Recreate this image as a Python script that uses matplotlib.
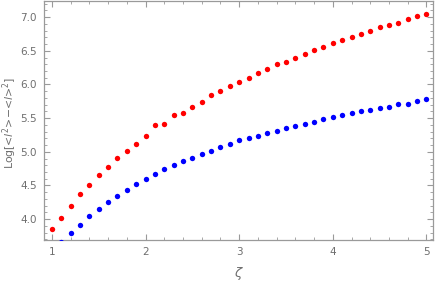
import numpy as np
import matplotlib.pyplot as plt
from matplotlib.ticker import MultipleLocator

# zeta grid, step 0.1
zeta_red = [1.0, 1.1, 1.2, 1.3, 1.4, 1.5, 1.6, 1.7, 1.8, 1.9,
            2.0, 2.1, 2.2, 2.3, 2.4, 2.5, 2.6, 2.7, 2.8, 2.9,
            3.0, 3.1, 3.2, 3.3, 3.4, 3.5, 3.6, 3.7, 3.8, 3.9,
            4.0, 4.1, 4.2, 4.3, 4.4, 4.5, 4.6, 4.7, 4.8, 4.9, 5.0]
var_red = [3.85, 4.02, 4.19, 4.37, 4.51, 4.65, 4.77, 4.91, 5.01, 5.12,
           5.23, 5.40, 5.42, 5.55, 5.58, 5.66, 5.74, 5.84, 5.91, 5.98,
           6.03, 6.10, 6.17, 6.23, 6.30, 6.34, 6.40, 6.45, 6.51, 6.55,
           6.61, 6.66, 6.70, 6.75, 6.79, 6.86, 6.88, 6.92, 6.97, 7.01, 7.04]

zeta_blue = [1.1, 1.2, 1.3, 1.4, 1.5, 1.6, 1.7, 1.8, 1.9,
             2.0, 2.1, 2.2, 2.3, 2.4, 2.5, 2.6, 2.7, 2.8, 2.9,
             3.0, 3.1, 3.2, 3.3, 3.4, 3.5, 3.6, 3.7, 3.8, 3.9,
             4.0, 4.1, 4.2, 4.3, 4.4, 4.5, 4.6, 4.7, 4.8, 4.9, 5.0]
var_blue = [3.66, 3.80, 3.92, 4.04, 4.15, 4.25, 4.35, 4.44, 4.52,
            4.60, 4.67, 4.74, 4.80, 4.86, 4.91, 4.97, 5.01, 5.07, 5.12,
            5.17, 5.20, 5.24, 5.28, 5.31, 5.36, 5.39, 5.42, 5.45, 5.48,
            5.51, 5.54, 5.57, 5.60, 5.62, 5.65, 5.67, 5.71, 5.71, 5.75, 5.78]

AXIS_GRAY = "#9a9a9a"
TEXT_GRAY = "#6e6e6e"

fig = plt.figure(figsize=(4.36, 2.83), dpi=100)
ax = fig.add_axes([44 / 436, 43 / 283, 389 / 436, 239 / 283])

ax.scatter(zeta_red, var_red, s=15, color="#ff0000", linewidths=0, zorder=3)
ax.scatter(zeta_blue, var_blue, s=15, color="#0000ff", linewidths=0, zorder=3)

ax.set_xlim(0.915, 5.07)
ax.set_ylim(3.69, 7.24)

ax.xaxis.set_major_locator(MultipleLocator(1))
ax.xaxis.set_minor_locator(MultipleLocator(0.2))
ax.yaxis.set_major_locator(MultipleLocator(0.5))
ax.yaxis.set_minor_locator(MultipleLocator(0.1))
ax.yaxis.set_major_formatter(plt.FormatStrFormatter("%.1f"))

for sp in ax.spines.values():
    sp.set_color(AXIS_GRAY)
    sp.set_linewidth(0.9)

ax.tick_params(which="both", direction="in", top=True, right=True,
               color=AXIS_GRAY, labelcolor=TEXT_GRAY, labelsize=7.5)
ax.tick_params(which="major", length=4, width=0.8, pad=5)
ax.tick_params(which="minor", length=2.2, width=0.6)

ax.set_xlabel(r"$\zeta$", color=TEXT_GRAY, fontsize=9.5, labelpad=6)
ax.set_ylabel(r"Log[<$l^2$>$-$<$l$>$^2$]", color=TEXT_GRAY, fontsize=7.8)
ax.yaxis.set_label_coords(-0.064, 0.49)

fig.savefig("out.png", dpi=100)
